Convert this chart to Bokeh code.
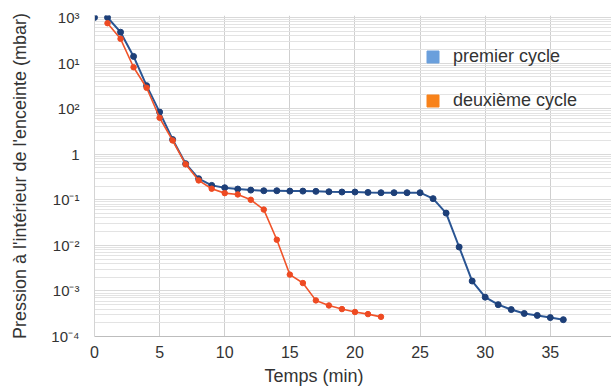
from bokeh.plotting import figure
from bokeh.models import Range1d, FixedTicker, CustomJSTickFormatter, Legend, LegendItem, Title
from bokeh.embed import file_html
from bokeh.resources import INLINE

# ---- data ----
premier_t = list(range(0, 37))
premier_p = [1000, 1000, 476, 140, 32, 8.4, 2.1, 0.62, 0.29, 0.207, 0.184, 0.172,
             0.163, 0.158, 0.158, 0.155, 0.155, 0.153, 0.150, 0.148, 0.148, 0.145,
             0.143, 0.143, 0.143, 0.143, 0.106, 0.051, 0.0092, 0.00165, 0.00073,
             0.0005, 0.00039, 0.00032, 0.00029, 0.00026, 0.000234]

deuxieme_t = list(range(1, 23))
deuxieme_p = [750, 341, 81, 28.7, 6.3, 2.0, 0.6, 0.266, 0.175, 0.14, 0.131, 0.1,
              0.061, 0.0133, 0.00228, 0.00149, 0.00062, 0.00048, 0.0004, 0.000345,
              0.00031, 0.00027]

x_ticks = [0, 5, 10, 15, 20, 25, 30, 35, 40]
y_decades = [-4, -3, -2, -1, 0, 1, 2, 3]
# labels as printed on the reference, from 10^-4 (bottom) up to 10^3 (top)
y_labels = ["10⁻⁴", "10⁻³", "10⁻²", "10⁻¹", "1", "10²", "10¹", "10³"]

series_names = ["premier cycle", "deuxième cycle"]
x_title = "Temps (min)"
y_title = "Pression à l'intérieur de l'enceinte (mbar)"

FONT = "Liberation Sans"

p = figure(width=611, height=388, output_backend="svg", toolbar_location=None,
           y_axis_type="log",
           x_range=Range1d(0, 39.7), y_range=Range1d(1e-4, 10 ** 3.044),
           min_border_left=94, min_border_right=0, min_border_top=15,
           min_border_bottom=52)
p.outline_line_color = None
p.background_fill_color = "white"

major = [10.0 ** d for d in y_decades]
minor = [m * 10.0 ** d for d in y_decades[:-1] for m in range(2, 10)]
p.yaxis.ticker = FixedTicker(ticks=major, minor_ticks=minor)
p.yaxis.formatter = CustomJSTickFormatter(
    args=dict(labels=y_labels),
    code="const e = Math.round(Math.log10(tick)); return labels[e + 4];")
p.xaxis.ticker = FixedTicker(ticks=x_ticks)

for ax in (p.xaxis, p.yaxis):
    ax.major_tick_line_color = None
    ax.minor_tick_line_color = None
    ax.major_tick_out = 0
    ax.major_tick_in = 0
    ax.minor_tick_out = 0
    ax.minor_tick_in = 0
    ax.major_label_text_font = FONT
    ax.major_label_text_font_size = "15px"
    ax.major_label_text_color = "#333333"
    ax.axis_label_text_font = FONT
    ax.axis_label_text_font_size = "18px"
    ax.axis_label_text_font_style = "normal"
    ax.axis_label_text_color = "#333333"

p.xaxis.major_label_text_font_size = "16px"
p.yaxis.axis_line_color = "#d4d4d4"
p.xaxis.axis_line_color = "#bdbdbd"
p.yaxis.major_label_standoff = 15
p.xaxis.major_label_standoff = 9
p.yaxis.axis_label_standoff = 18
p.yaxis.axis_label = y_title

# x-axis title, placed as in the reference (left of the frame centre)
p.add_layout(Title(text=x_title, align="left", offset=170, standoff=6,
                   text_line_height=0.7,
                   text_font=FONT, text_font_size="18px", text_font_style="normal",
                   text_color="#333333"), "below")

p.xgrid.grid_line_color = "#cfcfcf"
p.ygrid.grid_line_color = "#d9d9d9"
p.ygrid.minor_grid_line_color = "#e3e3e3"

# ---- series ----
BLUE_LINE = "#2a5593"
BLUE_DOT = "#1d3f78"
RED_LINE = "#f0542a"
RED_DOT = "#ee4a22"

p.line(premier_t[1:], premier_p[1:], line_color=BLUE_LINE, line_width=2)
p.scatter(premier_t, premier_p, size=6, fill_color=BLUE_DOT, line_color=BLUE_DOT)

p.line(deuxieme_t, deuxieme_p, line_color=RED_LINE, line_width=1.6)
p.scatter(deuxieme_t, deuxieme_p, size=5.5, fill_color=RED_DOT, line_color=RED_DOT)

# ---- legend (coloured squares); hidden renderers only feed the legend ----
r1 = p.quad(left=premier_t, right=premier_t, top=premier_p, bottom=premier_p,
            fill_color="#6a9fdc", line_color="#6a9fdc", visible=False)
r2 = p.quad(left=deuxieme_t, right=deuxieme_t, top=deuxieme_p, bottom=deuxieme_p,
            fill_color="#f8821a", line_color="#f8821a", visible=False)
legend = Legend(items=[LegendItem(label=series_names[0], renderers=[r1]),
                       LegendItem(label=series_names[1], renderers=[r2])],
                location=(331, 225), orientation="vertical", click_policy="none",
                spacing=23, glyph_width=15, glyph_height=15, label_height=15,
                padding=0, margin=0, border_line_color=None,
                background_fill_alpha=0, label_standoff=13,
                inactive_fill_alpha=0,
                label_text_font=FONT, label_text_font_size="18px",
                label_text_color="#333333")
p.add_layout(legend)

open("out.html", "w").write(file_html(p, INLINE))
